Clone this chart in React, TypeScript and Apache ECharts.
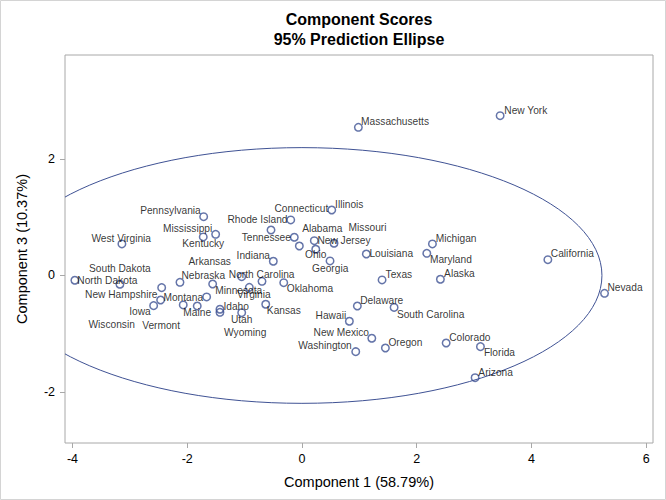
import React, { useEffect, useRef } from "react";
import * as echarts from "echarts";

const states = [
  "North Dakota", "South Dakota", "West Virginia", "Pennsylvania", "Mississippi",
  "Kentucky", "New Hampshire", "Iowa", "Wisconsin", "Nebraska",
  "Minnesota", "Montana", "Vermont", "Maine", "Idaho",
  "Wyoming", "Utah", "Arkansas", "North Carolina", "Virginia",
  "Oklahoma", "Kansas", "Indiana", "Rhode Island", "Connecticut",
  "Illinois", "Tennessee", "Alabama", "New Jersey", "Missouri",
  "Ohio", "Georgia", "Louisiana", "Texas", "Delaware",
  "Hawaii", "New Mexico", "Washington", "Oregon", "South Carolina",
  "Michigan", "Maryland", "Alaska", "Colorado", "Florida",
  "Arizona", "California", "Nevada", "New York", "Massachusetts",
];

const component1 = [
  -3.958, -3.173, -3.138, -1.713, -1.504,
  -1.72, -2.445, -2.463, -2.585, -2.126,
  -1.556, -1.661, -2.069, -1.825, -1.429,
  -1.429, -1.05, -1.05, -0.696, -0.917,
  -0.317, -0.631, -0.499, -0.539, -0.195,
  0.52, -0.133, -0.045, 0.216, 0.56,
  0.241, 0.49, 1.123, 1.397, 0.966,
  0.827, 1.218, 0.938, 1.455, 1.607,
  2.275, 2.177, 2.414, 2.514, 3.112,
  3.019, 4.287, 5.275, 3.455, 0.984,
];

const component3 = [
  -0.082, -0.151, 0.541, 1.009, 0.707,
  0.661, -0.209, -0.421, -0.518, -0.117,
  -0.146, -0.369, -0.506, -0.524, -0.58,
  -0.632, -0.639, -0.021, -0.1, -0.203,
  -0.124, -0.494, 0.244, 0.781, 0.953,
  1.124, 0.656, 0.506, 0.597, 0.553,
  0.45, 0.249, 0.369, -0.077, -0.524,
  -0.786, -1.078, -1.308, -1.245, -0.549,
  0.541, 0.381, -0.065, -1.159, -1.222,
  -1.755, 0.271, -0.306, 2.743, 2.544,
];

// Layout only: label centre offsets (px) from each marker, mimicking the reference's label placement
const labelOffsets: [number, number][] = [
  [32.5, 0.4], [0, -15.6], [-0.7, -5.7], [-33.2, -6], [-28, -5.6],
  [0, 6.3], [-40.4, 6.6], [-20.7, 11.7], [-42, 19.3], [23.3, -6.3],
  [26.1, 6.7], [-23.4, 0.3], [-22.1, 20.7], [0, 6.7], [16.2, -2.6],
  [25.3, 20.4], [0, 6.6], [-32, -15], [-0.3, -7], [4.5, 7],
  [26.3, 6], [18.1, 6.7], [-20, -5.6], [-13.5, -10], [10.6, -11.7],
  [17.5, -5.3], [-28, 0.4], [22.9, -17.7], [29.7, 0], [33.5, -16],
  [0, 5.7], [0.2, 7.3], [24.9, 0], [16.8, -5.7], [24.4, -5.3],
  [-18.5, -6], [-30.5, -5.6], [-30.7, -5.7], [20, -5], [36.5, 6.8],
  [23.7, -5.3], [24.1, 6], [19, -5.3], [23.7, -5.7], [19, 6],
  [20.5, -5.4], [24.5, -6], [20.5, -5.6], [25.7, -5.4], [36.7, -5.6],
];

const xTicks = [-4, -2, 0, 2, 4, 6];
const yTicks = [-2, 0, 2];
const ellipseCenter = [0, 0];
const ellipseSemiAxes = [5.23, 2.195];

const titleLine1 = "Component Scores";
const titleLine2 = "95% Prediction Ellipse";
const xTitle = "Component 1 (58.79%)";
const yTitle = "Component 3 (10.37%)";

const FONT = '"Liberation Sans", Arial, Helvetica, sans-serif';
const MARK = "#3f5294";
const FRAME = "#a8a8a8";

export default function App() {
  const ref = useRef<HTMLDivElement>(null);

  useEffect(() => {
    const chart = echarts.init(ref.current as HTMLDivElement, null, { renderer: "svg" });
    chart.setOption({
      animation: false,
      backgroundColor: "#ffffff",
      textStyle: { fontFamily: FONT },
      title: {
        text: titleLine1 + "\n" + titleLine2,
        left: 359,
        top: 9,
        textAlign: "center",
        padding: 0,
        textStyle: { fontFamily: FONT, fontSize: 16, fontWeight: "bold", color: "#000", lineHeight: 20 },
      },
      graphic: [
        {
          type: "rect",
          silent: true,
          shape: { x: 0.5, y: 0.5, width: 665, height: 499 },
          style: { fill: "none", stroke: "#d4d4d4", lineWidth: 1 },
        },
      ],
      grid: {
        left: 65,
        right: 13,
        top: 55,
        bottom: 57,
        show: true,
        borderColor: FRAME,
        borderWidth: 1,
        backgroundColor: "transparent",
      },
      xAxis: {
        type: "value",
        min: -4.13,
        max: 6.12,
        position: "bottom",
        name: xTitle,
        nameLocation: "middle",
        nameGap: 31,
        nameTextStyle: { fontFamily: FONT, fontSize: 14.5, color: "#000" },
        axisLine: { show: false, onZero: false },
        splitLine: { show: false },
        axisTick: { show: true, length: 5, lineStyle: { color: FRAME }, customValues: xTicks },
        axisLabel: { customValues: xTicks, margin: 9, fontSize: 12.5, color: "#000", fontFamily: FONT },
      },
      yAxis: {
        type: "value",
        min: -2.876,
        max: 3.785,
        position: "left",
        name: yTitle,
        nameLocation: "middle",
        nameGap: 36,
        nameTextStyle: { fontFamily: FONT, fontSize: 14.5, color: "#000" },
        axisLine: { show: false, onZero: false },
        splitLine: { show: false },
        axisTick: { show: true, length: 5, lineStyle: { color: FRAME }, customValues: yTicks },
        axisLabel: { customValues: yTicks, margin: 10, fontSize: 12.5, color: "#000", fontFamily: FONT },
      },
      series: [
        {
          type: "custom",
          silent: true,
          clip: true,
          z: 1,
          data: [ellipseCenter],
          renderItem: (params: any, api: any) => {
            const c = api.coord([api.value(0), api.value(1)]);
            const s = api.size([ellipseSemiAxes[0], ellipseSemiAxes[1]], [api.value(0), api.value(1)]);
            return {
              type: "ellipse",
              shape: { cx: c[0], cy: c[1], rx: s[0], ry: s[1] },
              style: { fill: "none", stroke: MARK, lineWidth: 1 },
            };
          },
        },
        {
          type: "scatter",
          z: 2,
          symbol: "circle",
          symbolSize: 7.5,
          itemStyle: { color: "rgba(255,255,255,0)", borderColor: MARK, borderWidth: 1.5 },
          emphasis: { disabled: true },
          label: {
            show: true,
            position: "inside",
            formatter: "{b}",
            color: "#000",
            fontSize: 10.2,
            fontFamily: FONT,
            textBorderWidth: 0,
          },
          data: states.map((s, i) => ({
            name: s,
            value: [component1[i], component3[i]],
            label: { offset: labelOffsets[i] },
          })),
        },
      ],
    });
    return () => chart.dispose();
  }, []);

  return (
    <div
      ref={ref}
      style={{ position: "absolute", left: 0, top: 0, width: 666, height: 500 }}
    />
  );
}
